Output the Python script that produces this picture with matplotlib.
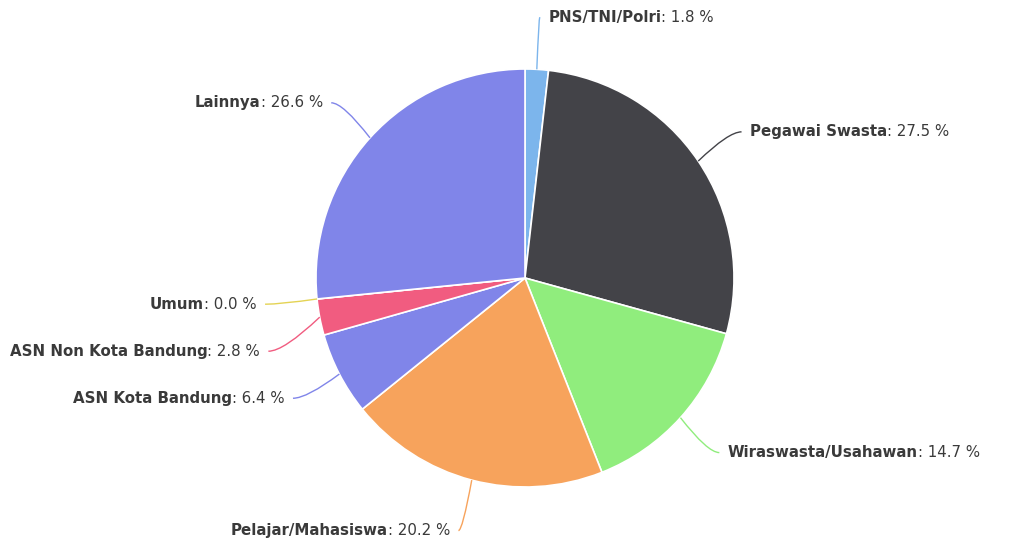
import numpy as np
import matplotlib
matplotlib.use("Agg")
import matplotlib.pyplot as plt
from matplotlib.path import Path
from matplotlib.patches import PathPatch

# Data
labels = ["PNS/TNI/Polri", "Pegawai Swasta", "Wiraswasta/Usahawan", "Pelajar/Mahasiswa",
          "ASN Kota Bandung", "ASN Non Kota Bandung", "Umum", "Lainnya"]
values = [1.8, 27.5, 14.7, 20.2, 6.4, 2.8, 0.0, 26.6]
colors = ["#7cb5ec", "#434348", "#90ed7d", "#f7a35c", "#8085e9", "#f15c80", "#e4d354", "#8085e9"]

W, H = 1027, 543
cx, cy, R = 525, 278, 209  # pie centre and radius in pixels

fig = plt.figure(figsize=(W / 100, H / 100), dpi=100)
ax = fig.add_axes([0, 0, 1, 1])

wedges, _ = ax.pie(values, colors=colors, startangle=90, counterclock=False, radius=1.0,
                   wedgeprops=dict(edgecolor="white", linewidth=1.2))

# pie() resets the limits, so set them afterwards
ax.set_xlim(-cx / R, (W - cx) / R)
ax.set_ylim(-(H - cy) / R, cy / R)
ax.set_aspect("equal")
ax.axis("off")

# label positions from wedge mid angles
mids = [np.deg2rad((w.theta1 + w.theta2) / 2) for w in wedges]
rl = 1.25
pos = [[rl * np.cos(a), rl * np.sin(a)] for a in mids]

# push overlapping labels apart (left side, top to bottom)
gap = 0.225
left = sorted([i for i in range(len(pos)) if pos[i][0] < 0], key=lambda i: -pos[i][1])
for k in range(1, len(left)):
    a, b = left[k - 1], left[k]
    if pos[a][1] - pos[b][1] < gap:
        pos[b][1] = pos[a][1] - gap

fig.canvas.draw()
renderer = fig.canvas.get_renderer()
tcol = "#3a3a3a"
fs = 10.8

for i, (w, a) in enumerate(zip(wedges, mids)):
    x0, y0 = np.cos(a), np.sin(a)
    x2, y2 = pos[i]
    side = 1 if x2 >= 0 else -1
    ctrl = (x0 + 0.7 * (x2 - x0), y2)
    path = Path([(x0, y0), ctrl, (x2, y2)], [Path.MOVETO, Path.CURVE3, Path.CURVE3])
    ax.add_patch(PathPatch(path, fill=False, edgecolor=colors[i], linewidth=1.0))

    tx = x2 + side * 0.04
    name = labels[i]
    val = ": %.1f %%" % values[i]
    if side > 0:
        t1 = ax.text(tx, y2, name, ha="left", va="center", fontsize=fs, fontweight="bold", color=tcol)
        bb = t1.get_window_extent(renderer).transformed(ax.transData.inverted())
        ax.text(bb.x1, y2, val, ha="left", va="center", fontsize=fs, color=tcol)
    else:
        t2 = ax.text(tx, y2, val, ha="right", va="center", fontsize=fs, color=tcol)
        bb = t2.get_window_extent(renderer).transformed(ax.transData.inverted())
        ax.text(bb.x0, y2, name, ha="right", va="center", fontsize=fs, fontweight="bold", color=tcol)

fig.savefig("out.png", dpi=100)
